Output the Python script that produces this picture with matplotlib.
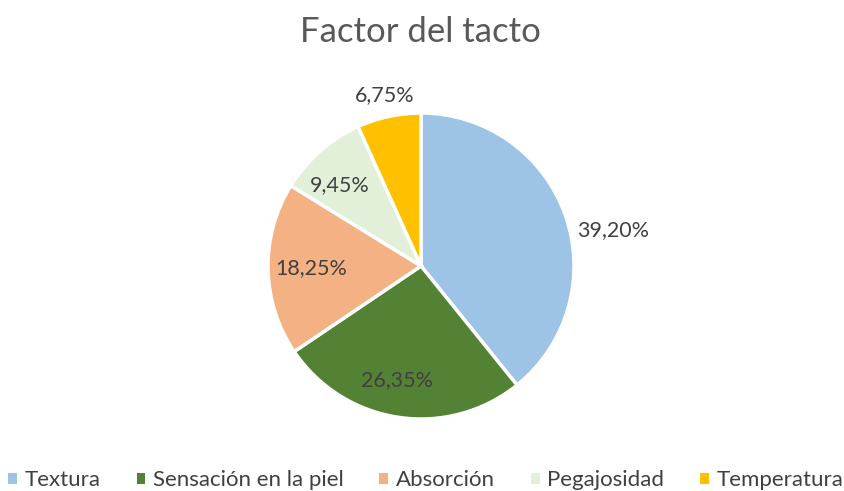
import matplotlib.pyplot as plt
import numpy as np

categories = ["Textura", "Sensación en la piel", "Absorción", "Pegajosidad", "Temperatura"]
shares = [39.20, 26.35, 18.25, 9.45, 6.75]
colors = ["#9DC3E6", "#548235", "#F4B183", "#E2F0D9", "#FFC000"]

# where Excel put each label: distance (fraction of radius) and angle nudge (deg)
label_dist = [1.28, 0.76, 0.72, 0.75, 1.14]
label_nudge = [-8.8, -3.3, 0.0, 3.7, 0.0]

plt.rcParams["font.family"] = ["Lato", "DejaVu Sans"]
text_color = "#404040"

fig = plt.figure(figsize=(8.45, 4.91), dpi=100)
ax = fig.add_axes([0, 0, 1, 1])

cx, cy, r = 421, 491 - 266, 153
wedges, _ = ax.pie(
    shares,
    colors=colors,
    startangle=90,
    counterclock=False,
    center=(cx, cy),
    radius=r,
    wedgeprops=dict(edgecolor="white", linewidth=2.5),
)
ax.set_xlim(0, 845)
ax.set_ylim(0, 491)
ax.set_aspect("equal")
ax.axis("off")

for w, v, d, nudge in zip(wedges, shares, label_dist, label_nudge):
    ang = np.deg2rad((w.theta1 + w.theta2) / 2 + nudge)
    x = cx + d * r * np.cos(ang)
    y = cy + d * r * np.sin(ang)
    ax.text(x, y, f"{v:.2f}%".replace(".", ","), ha="center", va="center",
            fontsize=15.5, color=text_color)

fig.text(0.498, 1 - 32 / 491, "Factor del tacto", ha="center", va="center",
         fontsize=25, color="#595959")

leg = fig.legend(wedges, categories, loc="center", bbox_to_anchor=(0.504, 1 - 480.5 / 491),
                 ncol=5, frameon=False, fontsize=16, handlelength=0.4, handleheight=0.4,
                 handletextpad=0.35, columnspacing=1.6, labelcolor=text_color,
                 borderpad=0, borderaxespad=0)
for h in leg.legend_handles:
    h.set_edgecolor("none")

fig.savefig("out.png", dpi=100)
